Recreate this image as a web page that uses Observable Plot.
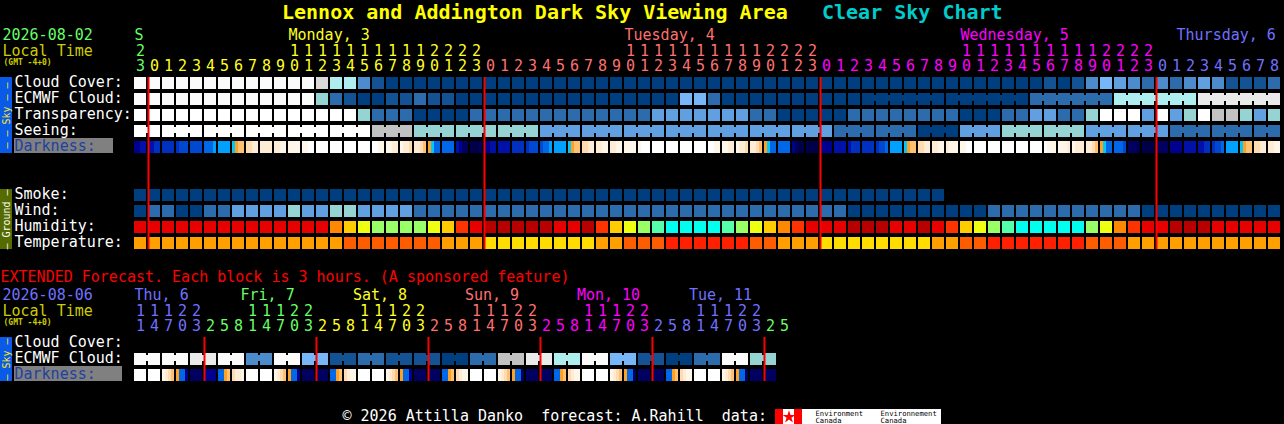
<!DOCTYPE html>
<html>
<head>
<meta charset="utf-8">
<title>Lennox and Addington Dark Sky Viewing Area Clear Sky Chart</title>
<style>
html,body{margin:0;padding:0;background:#000;overflow:hidden}
svg{display:block}
svg text{white-space:pre}
</style>
<script src="https://cdn.jsdelivr.net/npm/d3@7"></script>
<script src="https://cdn.jsdelivr.net/npm/@observablehq/plot@0.6"></script>
</head>
<body>
<div id="chart"></div>
<script>
// ---------- palettes ----------
const skyColors = ["#003f7f","#135393","#2c6cac","#4c8ccc","#60a0e0","#77b7f7","#96d4d4","#aeeeee","#c2c2c2","#d9d9d9","#eaeaea","#fbfbfb","#ffffff"];
const humidityColors = ["#b80000","#e60000","#ff3300","#ff8800","#ffcc00","#eeff11","#99ff66","#55ffaa","#00ffee"];
const temperatureColors = ["#ffdd00","#ffa000","#ff5c00","#ff2000"];
const darknessColors = {"0":"#ffffff","1":"#fff6ea","2":"#ffecd4","3":"#ffdcb0","4":"#ffc070","5":"#ffa020","6":"#00c8ff","7":"#00a0ff","8":"#0068e8","9":"#0048d0","a":"#0030c0","b":"#0010a8","c":"#000090","d":"#000060","e":"#000048"};
const dayColors = {sun:"#66ff66",mon:"#ffff22",tue:"#ff7070",wed:"#ff00ff",thu:"#7070ff",fri:"#66ff66",sat:"#ffff22"};

// ---------- main chart values (one per hour) ----------
const hours = [23,
 0,1,2,3,4,5,6,7,8,9,10,11,12,13,14,15,16,17,18,19,20,21,22,23,
 0,1,2,3,4,5,6,7,8,9,10,11,12,13,14,15,16,17,18,19,20,21,22,23,
 0,1,2,3,4,5,6,7,8,9,10,11,12,13,14,15,16,17,18,19,20,21,22,23,
 0,1,2,3,4,5,6,7,8];
const hourDays = ["sun",
 "mon","mon","mon","mon","mon","mon","mon","mon","mon","mon","mon","mon","mon","mon","mon","mon","mon","mon","mon","mon","mon","mon","mon","mon",
 "tue","tue","tue","tue","tue","tue","tue","tue","tue","tue","tue","tue","tue","tue","tue","tue","tue","tue","tue","tue","tue","tue","tue","tue",
 "wed","wed","wed","wed","wed","wed","wed","wed","wed","wed","wed","wed","wed","wed","wed","wed","wed","wed","wed","wed","wed","wed","wed","wed",
 "thu","thu","thu","thu","thu","thu","thu","thu","thu"];

const cloudCover = [11,11,11,11,11,11,11,11,11,11,11,11,11,9,7,7,3,1,0,0,0,
 0,0,0,0,0,0,0,0,0,0,0,0,0,0,0,0,0,0,0,0,0,0,0,0,0,0,0,0,0,0,0,0,0,0,0,0,0,0,0,0,0,0,0,0,
 1,0,1,3,5,4,3,2,3,2,3,4,3,1,1,1,2];
const ecmwfCloud = [11,11,11,11,11,11,11,11,11,11,11,11,11,6,2,1,0,0,1,1,2,
 1,1,0,0,0,0,0,0,0,0,0,0,0,0,0,0,0,0,5,5,2,0,0,0,0,0,0,0,0,0,0];
const ecmwfBlocks = [0,0,2,7,10];
const transparency = [12,12,12,12,12,12,12,12,12,12,12,12,12,12,12,12,6,2,2,2,0,
 0,0,0,2,2,2,2,2,2,2,2,2,2,2,2,2,4,4,4,4,4,4,4,2,2,0,0,0,0,0,2,
 2,2,2,2,2,2,2,0,0,0,2,2,4,4,2,2,6,12,12,12,4,12,4,6,12,8,8,6,4,6];
const seeingBlocks = [12,12,12,12,12,12,8,6,6,6,4,4,4,4,4,4,4,2,2,0,4,6,6,4,4,2,2,2];
const seeingSpans = [2,3,3,3,3,3,3,3,3,3,3,3,3,3,3,3,3,3,3,3,3,3,3,3,3,3,3,2];
const darkness = ["ccbb","bbaa","aaaa","a999","9999","8887","7777","6544","3322","2222","2211","1111","1100","0000","0000","0000","0000",
 "0011","1122","1223","2234","5688","8888","bcdd","eeed",
 "ccbb","bbbb","aaaa","a999","9887","7777","6544","3322","2211","2211","1111","1000","0000","0000","0000","0000",
 "0011","1122","1223","2234","5688","8888","cdee","eeee",
 "cccc","bbbb","baaa","aaaa","a998","7777","6544","3322","2211","2111","1100","0000","0000","0000","0000","0000",
 "0111","1112","1222","2234","5688","8889","ddde","eeee",
 "dddd","cccc","bbbb","bbaa","a998","7777","6544","3322","2211"];
const smoke = [0,0,0,0,0,0,0,0,0,0,0,0,0,0,0,0,0,0,0,0,0,0,0,0,0,0,0,0,0,0,0,0,0,0,0,0,0,0,0,0,0,0,0,0,0,0,0,0,0,0,0,0,0,0,0,0,0,0];
const wind = [0,2,2,0,0,2,2,4,4,4,4,6,4,4,6,6,4,4,4,4,2,
 2,2,2,2,2,2,2,2,2,2,2,2,2,2,2,2,2,2,2,2,2,2,2,2,2,2,2,2,2,2,0,
 0,0,0,0,0,0,0,0,0,2,2,2,2,2,2,2,2,2,2,2,0,0,0,0,0,0,0,0,0,0];
const humidity = [1,1,1,1,1,1,1,1,1,1,1,1,1,1,3,4,5,6,6,6,6,
 5,4,2,1,0,0,0,0,0,1,1,0,2,4,5,6,7,8,8,8,8,7,6,5,4,3,2,1,1,1,0,
 0,0,1,1,0,1,2,4,5,6,7,8,8,8,8,8,6,5,3,2,1,1,0,0,0,1,1,1,1,1];
const temperature = [1,1,1,1,1,1,1,1,1,1,1,1,1,1,1,2,2,2,2,2,2,
 2,1,1,1,0,0,0,0,0,0,0,0,1,1,2,2,2,3,3,3,3,3,3,2,2,1,1,1,0,0,0,
 0,0,0,0,0,1,1,2,2,3,3,3,3,3,3,3,2,2,2,1,1,1,1,1,1,1,1,1,1,1];

const skyLabels = ["Cloud Cover:","ECMWF Cloud:","Transparency:","Seeing:"];
const groundLabels = ["Smoke:","Wind:","Humidity:","Temperature:"];
const mainDays = [["S",0,"sun"],["Monday, 3",11,"mon"],["Tuesday, 4",35,"tue"],["Wednesday, 5",59,"wed"],["Thursday, 6",74.43,"thu"]];
const midnightHours = [1,25,49,73];

// ---------- extended forecast values (one per 3-hour block) ----------
const extHours = [11,14,17,20,23,
 2,5,8,11,14,17,20,23,
 2,5,8,11,14,17,20,23,
 2,5,8,11,14,17,20,23,
 2,5,8,11,14,17,20,23,
 2,5,8,11,14,17,20,23,
 2,5];
const extHourDays = ["thu","thu","thu","thu","thu",
 "fri","fri","fri","fri","fri","fri","fri","fri",
 "sat","sat","sat","sat","sat","sat","sat","sat",
 "tue","tue","tue","tue","tue","tue","tue","tue",
 "wed","wed","wed","wed","wed","wed","wed","wed",
 "thu","thu","thu","thu","thu","thu","thu","thu",
 "fri","fri"];
const extEcmwf = [11,11,10,11,3,11,5,1,2,1,1,0,2,8,10,7,11,5,1,0,2,11,6];
const extDarkness = ["0000","0000","1234","588c","dddd","cccc","8854","3221",
 "0000","0000","1234","588c","dddd","dddd","8854","3211",
 "0000","0000","1234","588c","dddd","dddd","8854","3211",
 "0000","0000","1234","588d","dddd","dddd","8854","3211",
 "0000","0000","1234","588d","dddd","dddd","8854","3211",
 "0000","0000","1234","588d","dddd","dddd"];
const extDays = [["Thu, 6",0,"thu"],["Fri, 7",7.57,"fri"],["Sat, 8",15.6,"sat"],["Sun, 9",23.6,"tue"],["Mon, 10",31.6,"wed"],["Tue, 11",39.6,"thu"]];
const extMidnights = [5,13,21,29,37,45];

// ---------- layout, in scale units: x = hour block, y = 16px chart row ----------
const blockW = 12/14, rowH = 12/16, sliceW = blockW/4;
const mono = "DejaVu Sans Mono, monospace";
const ROW = {cloud:0, ecmwf:1, transp:2, seeing:3, dark:4, smoke:7, wind:8, hum:9, temp:10,
  extCloud:16.25, extEcmwf:17.25, extDark:18.25};
const px = v => (v - 134)/14;       // page x as blocks
const rowTop = v => (v - 77)/16;    // page y as rows
const rowAt = v => rowTop(v) - rowH/2; // text centre, given as a row whose middle is v
const labelLift = -1/16;            // row labels sit 1px above the cell centre
const LINE = {date:rowAt(34.7), tens:rowAt(50.2), units:rowAt(65.7), extTitle:rowAt(276.2),
  extDate:rowAt(294.7), extTens:rowAt(310.2), extUnits:rowAt(325.7)};

// ---------- build cells ----------
const cells = [];
const addRow = (values, row, prefix) => values.forEach((v,i) =>
  cells.push({x1:i, x2:i+blockW, y1:row, y2:row+rowH, key:prefix+v}));
const addBlocks = (values, spans, row, start, prefix) => {
  let k = start;
  values.forEach((v,b) => {
    for (let j=0;j<spans[b];j++) {
      cells.push({x1:k+j, x2:k+j+blockW, y1:row, y2:row+rowH, key:prefix+v});
      if (j<spans[b]-1) cells.push({x1:k+j+blockW, x2:k+j+1, y1:row+2/16, y2:row+8/16, key:prefix+v});
    }
    k += spans[b];
  });
};
const addSlices = (values, row) => values.forEach((s,i) => [...s].forEach((c,j) =>
  cells.push({x1:i+j*sliceW, x2:i+(j+1)*sliceW, y1:row, y2:row+rowH, key:"d"+c})));

addRow(cloudCover, ROW.cloud, "s");
addRow(ecmwfCloud, ROW.ecmwf, "s");
addBlocks(ecmwfBlocks, ecmwfBlocks.map(()=>6), ROW.ecmwf, ecmwfCloud.length, "s");
addRow(transparency, ROW.transp, "s");
addBlocks(seeingBlocks, seeingSpans, ROW.seeing, 0, "s");
addSlices(darkness, ROW.dark);
addRow(smoke, ROW.smoke, "s");
addRow(wind, ROW.wind, "s");
addRow(humidity, ROW.hum, "h");
addRow(temperature, ROW.temp, "t");
addBlocks(extEcmwf, extEcmwf.map(()=>2), ROW.extEcmwf, 0, "s");
addSlices(extDarkness, ROW.extDark);

const colorDomain = [...skyColors.map((_,i)=>"s"+i), ...humidityColors.map((_,i)=>"h"+i),
  ...temperatureColors.map((_,i)=>"t"+i), ...Object.keys(darknessColors).map(k=>"d"+k)];
const colorRange = [...skyColors, ...humidityColors, ...temperatureColors, ...Object.values(darknessColors)];

// ---------- text tables ----------
const hourText = (list, days, unitsRow, tensRow) => [
  ...list.map((h,i)=>({t:String(h%10), x:i+6/14, y:unitsRow, c:dayColors[days[i]]})),
  ...list.map((h,i)=>({h,i})).filter(d=>d.h>=10).map(d=>({t:String(Math.floor(d.h/10)), x:d.i+6/14, y:tensRow, c:dayColors[days[d.i]]}))
];
const digitText = [...hourText(hours, hourDays, LINE.units, LINE.tens), ...hourText(extHours, extHourDays, LINE.extUnits, LINE.extTens)];
const startText = [
  ...mainDays.map(([t,x,d])=>({t, x, y:LINE.date, c:dayColors[d]})),
  ...extDays.map(([t,x,d])=>({t, x, y:LINE.extDate, c:dayColors[d]})),
  ...skyLabels.map((t,i)=>({t, x:px(14), y:i+labelLift, c:"#ffffff"})),
  ...groundLabels.map((t,i)=>({t, x:px(14), y:ROW.smoke+i+labelLift, c:"#ffffff"})),
  {t:"Darkness:", x:px(14), y:ROW.dark+labelLift, c:"#2040a0"},
  {t:"Cloud Cover:", x:px(14), y:ROW.extCloud+labelLift, c:"#ffffff"},
  {t:"ECMWF Cloud:", x:px(14), y:ROW.extEcmwf+labelLift, c:"#ffffff"},
  {t:"Darkness:", x:px(14), y:ROW.extDark+labelLift, c:"#2040a0"},
  {t:"2026-08-02", x:px(2), y:LINE.date, c:"#66ff66"},
  {t:"Local Time", x:px(2), y:LINE.tens, c:"#cccc00"},
  {t:"2026-08-06", x:px(2), y:LINE.extDate, c:"#7070ff"},
  {t:"Local Time", x:px(2), y:LINE.extTens, c:"#cccc00"},
  {t:"EXTENDED Forecast. Each block is 3 hours. (A sponsored feature)", x:px(0), y:LINE.extTitle, c:"#ff0000"},
  {t:"\u00a9 2026 Attilla Danko  forecast: A.Rahill  data:", x:px(342), y:rowAt(416), c:"#ffffff"}
];
const titleText = [
  {t:"Lennox and Addington Dark Sky Viewing Area", x:px(281.5), y:rowAt(12), c:"#ffff00"},
  {t:"Clear Sky Chart", x:px(821.5), y:rowAt(12), c:"#00cccc"}
];
const smallText = [
  {t:"(GMT -4+0)", x:px(3), y:rowAt(62), c:"#cccc00"},
  {t:"(GMT -4+0)", x:px(3), y:rowAt(322), c:"#cccc00"}
];
const logoText = [
  {t:"Environment", x:px(815), y:rowAt(413.5), c:"#000000"},
  {t:"Canada", x:px(815), y:rowAt(420.5), c:"#000000"},
  {t:"Environnement", x:px(880), y:rowAt(413.5), c:"#000000"},
  {t:"Canada", x:px(880), y:rowAt(420.5), c:"#000000"}
];
const sideBars = [
  {x1:px(0), x2:px(12), y1:ROW.cloud, y2:ROW.dark+rowH, f:"#0a5ae8"},
  {x1:px(0), x2:px(12), y1:ROW.smoke, y2:ROW.temp+rowH, f:"#556b00"},
  {x1:px(0), x2:px(12), y1:ROW.extCloud, y2:ROW.extDark+rowH, f:"#0a5ae8"}
];
const sideText = [
  {t:"\u2013 \u2013 Sky \u2013 \u2013", x:px(6), y:(ROW.cloud+ROW.dark+rowH)/2, c:"#ffe81a"},
  {t:"\u2013 Ground \u2013", x:px(6), y:(ROW.smoke+ROW.temp+rowH)/2, c:"#ffffff"},
  {t:"\u2013 Sky \u2013", x:px(6), y:(ROW.extCloud+ROW.extDark+rowH)/2, c:"#ffe81a"}
];
const labelBacks = [
  {x1:px(14), x2:px(113), y1:rowTop(138), y2:rowTop(153)},
  {x1:px(14), x2:px(122), y1:rowTop(366), y2:rowTop(381)}
];
const logoFlag = [
  {x1:px(775), x2:px(941), y1:rowTop(409), y2:rowTop(424), f:"#ffffff"},
  {x1:px(775), x2:px(783), y1:rowTop(409), y2:rowTop(424), f:"#ff0000"},
  {x1:px(794), x2:px(802), y1:rowTop(409), y2:rowTop(424), f:"#ff0000"}
];
const ruleData = [
  ...midnightHours.map(x=>({x, y1:ROW.cloud, y2:ROW.temp+rowH})),
  ...extMidnights.map(x=>({x, y1:ROW.extCloud, y2:ROW.extDark+rowH}))
];

const textMark = (data, size, opts={}) => Plot.text(data, {
  x:"x", y:d=>d.y+rowH/2, text:"t", fill:{value:d=>d.c, scale:null}, fontFamily:mono, fontSize:size,
  textAnchor:"start", lineAnchor:"middle", ...opts});

const chart = Plot.plot({
  width:1284, height:424, margin:0,
  style:{background:"#000", fontFamily:mono},
  x:{axis:null, domain:[-134/14, 1150/14], range:[0,1284]},
  y:{axis:null, domain:[-77/16, (424-77)/16], range:[0,424]},
  color:{type:"ordinal", domain:colorDomain, range:colorRange},
  marks:[
    Plot.rect(sideBars,{x1:"x1",x2:"x2",y1:"y1",y2:"y2",fill:{value:d=>d.f,scale:null},shapeRendering:"crispEdges"}),
    Plot.rect(labelBacks,{x1:"x1",x2:"x2",y1:"y1",y2:"y2",fill:"#808080",shapeRendering:"crispEdges"}),
    Plot.rect(cells,{x1:"x1",x2:"x2",y1:"y1",y2:"y2",fill:"key",shapeRendering:"crispEdges"}),
    Plot.rect(logoFlag,{x1:"x1",x2:"x2",y1:"y1",y2:"y2",fill:{value:d=>d.f,scale:null},shapeRendering:"crispEdges"}),
    Plot.dot([{x:px(788.5),y:rowTop(416.5)}],{x:"x",y:"y",symbol:"star",r:4,fill:"#ff0000"}),
    Plot.ruleX(ruleData,{x:"x",y1:"y1",y2:"y2",stroke:"#ff0000",strokeWidth:2}),
    textMark(titleText,20,{fontWeight:"bold"}),
    textMark(startText,15),
    textMark(digitText,15,{textAnchor:"middle"}),
    textMark(smallText,8,{fontWeight:"bold"}),
    textMark(sideText,10,{textAnchor:"middle",rotate:-90,y:"y"}),
    textMark(logoText,7.2)
  ]
});
document.getElementById("chart").appendChild(chart);
</script>
</body>
</html>
